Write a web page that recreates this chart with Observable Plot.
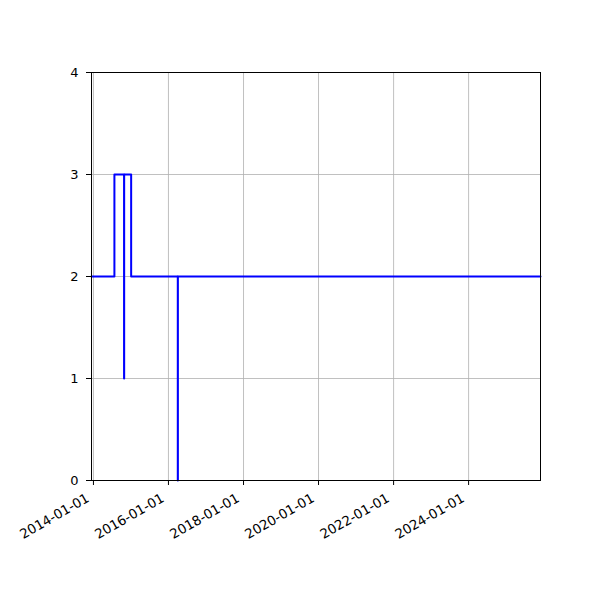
<!DOCTYPE html>
<html>
<head>
<meta charset="utf-8">
<script src="https://cdn.jsdelivr.net/npm/d3@7"></script>
<script src="https://cdn.jsdelivr.net/npm/@observablehq/plot@0.6"></script>
<style>
  body { margin: 0; background: #fff; }
  #chart { width: 600px; height: 600px; }
</style>
</head>
<body>
<div id="chart"></div>
<script>
// Series (step-after values)
const dates = ["2013-12-13", "2014-07-24", "2014-10-26", "2014-10-27", "2015-01-03", "2016-04-01", "2016-04-02", "2025-12-01"];
const values = [2, 3, 1, 3, 2, 0, 2, 2];
// Tick labels
const xTickLabels = ["2014-01-01", "2016-01-01", "2018-01-01", "2020-01-01", "2022-01-01", "2024-01-01"];
const yTickLabels = [0, 1, 2, 3, 4];
const xDomain = ["2013-12-13", "2025-12-01"];

const parse = d3.utcParse("%Y-%m-%d");
const data = dates.map((d, i) => ({date: parse(d), value: values[i]}));
const xTicks = xTickLabels.map(parse);
const fmt = d3.utcFormat("%Y-%m-%d");

const chart = Plot.plot({
  width: 600,
  height: 600,
  marginLeft: 91,
  marginRight: 60,
  marginTop: 72,
  marginBottom: 120,
  style: {fontFamily: "DejaVu Sans", fontSize: "13px", background: "#fff", color: "#000"},
  x: {type: "utc", domain: xDomain.map(parse)},
  y: {domain: [0, 4]},
  marks: [
    Plot.gridX(xTicks, {stroke: "#b0b0b0", strokeOpacity: 1, strokeWidth: 0.8}),
    Plot.gridY(yTickLabels, {stroke: "#b0b0b0", strokeOpacity: 1, strokeWidth: 0.8}),
    Plot.line(data, {x: "date", y: "value", curve: "step-after", stroke: "blue", strokeWidth: 2}),
    Plot.frame({stroke: "#000", strokeWidth: 1}),
    Plot.axisX({ticks: xTicks, tickFormat: () => "", tickSize: 5, label: null, stroke: "#000"}),
    Plot.text(xTicks, {x: d => d, frameAnchor: "bottom", text: d => fmt(d), rotate: -30, textAnchor: "end", lineAnchor: "top", dx: -8, dy: 12, fontSize: 13.3, fill: "#000"}),
    Plot.axisY({ticks: yTickLabels, tickFormat: d => String(d), tickSize: 5, tickPadding: 8, label: null, stroke: "#000", fill: "#000", fontSize: 13})
  ]
});
document.getElementById("chart").appendChild(chart);
</script>
</body>
</html>
